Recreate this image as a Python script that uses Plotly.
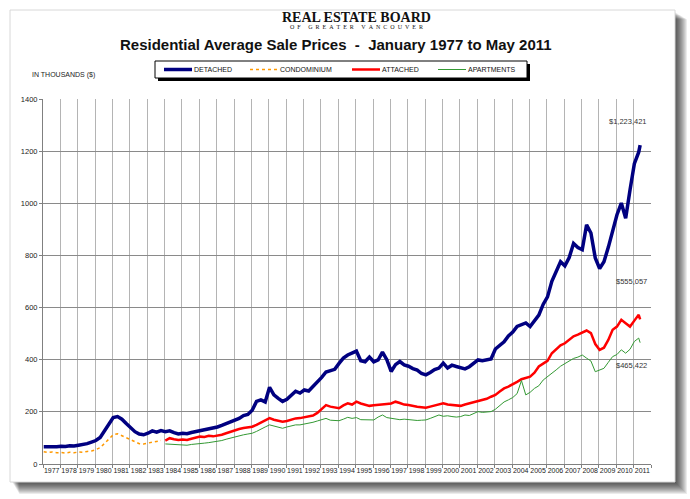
import plotly.graph_objects as go

# ---------------- data (thousands of dollars) ----------------
years = list(range(1977, 2012))
year_labels = [str(y) for y in years]

# quarterly observations (Jan, Apr, Jul, Oct) + final May 2011 value
detached = [
    66, 65, 67, 66,      # 1977
    68, 67, 70, 69,      # 1978
    72, 74, 78, 84,      # 1979
    90, 102, 128, 152,   # 1980
    178, 182, 172, 155,  # 1981
    138, 124, 115, 112,  # 1982
    118, 127, 122, 128,  # 1983
    124, 127, 120, 115,  # 1984
    118, 116, 121, 124,  # 1985
    128, 131, 135, 137,  # 1986
    142, 148, 155, 160,  # 1987
    166, 175, 186, 190,  # 1988
    206, 240, 246, 238,  # 1989
    294, 265, 252, 240,  # 1990
    248, 262, 279, 272,  # 1991
    284, 280, 296, 312,  # 1992
    332, 353, 358, 363,  # 1993
    386, 406, 418, 426,  # 1994
    433, 396, 392, 410,  # 1995
    392, 399, 429, 400,  # 1996
    355, 381, 393, 380,  # 1997
    375, 366, 360, 347,  # 1998
    342, 351, 362, 368,  # 1999
    387, 368, 379, 374,  # 2000
    370, 365, 373, 386,  # 2001
    399, 396, 401, 403,  # 2002
    441, 456, 469, 491,  # 2003
    506, 528, 536, 541,  # 2004
    527, 551, 571, 612,  # 2005
    641, 701, 741, 776,  # 2006
    760, 792, 846, 830,  # 2007
    822, 917, 886, 790,  # 2008
    750, 776, 831, 898,  # 2009
    956, 1001, 943, 1051,  # 2010
    1152, 1196, 1223.421,  # 2011 (Jan, Apr, May)
]

condominium = [
    47, 44, 46, 43,      # 1977
    44, 42, 45, 43,      # 1978
    46, 45, 48, 50,      # 1979
    55, 63, 79, 96,      # 1980
    112, 116, 108, 99,   # 1981
    92, 84, 78, 77,      # 1982
    80, 85, 86, 90,      # 1983
]

attached = [
    90, 99, 95, 92,      # 1984
    94, 92, 97, 100,     # 1985
    105, 104, 108, 106,  # 1986
    108, 112, 118, 124,  # 1987
    130, 134, 138, 140,  # 1988
    143, 150, 158, 165,  # 1989
    176, 170, 165, 162,  # 1990
    165, 170, 175, 176,  # 1991
    180, 182, 186, 196,  # 1992
    210, 226, 220, 216,  # 1993
    214, 225, 233, 228,  # 1994
    239, 232, 226, 223,  # 1995
    225, 226, 229, 230,  # 1996
    232, 239, 234, 228,  # 1997
    226, 222, 220, 218,  # 1998
    216, 220, 225, 230,  # 1999
    233, 228, 226, 224,  # 2000
    223, 228, 232, 236,  # 2001
    239, 245, 250, 258,  # 2002
    265, 278, 290, 297,  # 2003
    305, 315, 325, 329,  # 2004
    335, 350, 374, 385,  # 2005
    396, 425, 440, 455,  # 2006
    463, 476, 490, 496,  # 2007
    505, 512, 502, 460,  # 2008
    438, 446, 476, 515,  # 2009
    527, 553, 540, 527,  # 2010
    550, 572, 555.057,   # 2011 (Jan, Apr, May)
]

apartments = [
    77, 76, 74, 73,      # 1984
    74, 72, 75, 76,      # 1985
    79, 80, 82, 84,      # 1986
    86, 90, 95, 100,     # 1987
    105, 108, 112, 115,  # 1988
    118, 125, 135, 142,  # 1989
    150, 145, 140, 137,  # 1990
    142, 146, 150, 150,  # 1991
    153, 156, 160, 165,  # 1992
    169, 175, 168, 166,  # 1993
    166, 172, 179, 175,  # 1994
    178, 170, 169, 168,  # 1995
    169, 180, 188, 178,  # 1996
    175, 172, 170, 172,  # 1997
    170, 169, 167, 168,  # 1998
    169, 175, 180, 188,  # 1999
    183, 185, 182, 180,  # 2000
    182, 188, 186, 193,  # 2001
    201, 198, 200, 201,  # 2002
    210, 225, 238, 246,  # 2003
    255, 270, 320, 265,  # 2004
    275, 290, 300, 322,  # 2005
    335, 345, 361, 375,  # 2006
    385, 393, 405, 410,  # 2007
    418, 406, 395, 354,  # 2008
    360, 367, 390, 412,  # 2009
    420, 438, 425, 440,  # 2010
    470, 483, 465.422,   # 2011 (Jan, Apr, May)
]

series_names = ["DETACHED", "CONDOMINIUM", "ATTACHED", "APARTMENTS"]
series_colors = ["#000080", "#FF9900", "#FF0000", "#339933"]
series_widths = [3.5, 1.5, 2.5, 1]
series_dash = ["solid", "dot", "solid", "solid"]
end_labels = ["$1,223,421", "$555,057", "$465,422"]


def period_axis(first_year, n):
    """Decimal-year positions (month centres) for quarterly observations,
    with the last entry being May 2011."""
    out = []
    for i in range(n - 1):
        y = first_year + i // 4
        m = 1 + 3 * (i % 4)
        out.append(y + (m - 1) / 12 + 1 / 24)
    out.append(2011 + 4 / 12 + 1 / 24)
    return out


def quarter_axis(first_year, n):
    return [first_year + i // 4 + (3 * (i % 4)) / 12 + 1 / 24 for i in range(n)]


xs = [period_axis(1977, len(detached)), quarter_axis(1977, len(condominium)),
      period_axis(1984, len(attached)), period_axis(1984, len(apartments))]
ys = [detached, condominium, attached, apartments]

# ---------------- layout geometry ----------------
W, H = 690, 499
ML, MR, MT, MB = 43, 39, 99, 35
PW = W - ML - MR
PH = H - MT - MB


def px(xp):
    return (xp - ML) / PW


def py(yp):
    return (H - MB - yp) / PH


fig = go.Figure()
for name, xv, yv, c, w, d in zip(series_names, xs, ys, series_colors,
                                 series_widths, series_dash):
    fig.add_trace(go.Scatter(x=xv, y=yv, name=name, mode="lines",
                             line=dict(color=c, width=w, dash=d),
                             showlegend=False))

shapes = []
# page drop shadow
for k in range(1, 13):
    shapes.append(dict(type="rect", xref="paper", yref="paper", layer="below",
                       x0=px(12 + k * 0.6), x1=px(675 + k),
                       y0=py(482 + k), y1=py(12 + k * 0.6),
                       fillcolor="rgba(0,0,0,0.08)", line=dict(width=0)))
# page
shapes.append(dict(type="rect", xref="paper", yref="paper", layer="below",
                   x0=px(10), x1=px(675), y0=py(482), y1=py(10),
                   fillcolor="white", line=dict(color="#d8d8d8", width=1)))

# legend box (with shadow) and keys
LEG_X0, LEG_X1, LEG_Y0, LEG_Y1 = 155, 527, 61, 78
shapes.append(dict(type="rect", xref="paper", yref="paper", layer="above",
                   x0=px(LEG_X0 + 3), x1=px(LEG_X1 + 3), y0=py(LEG_Y1 + 3), y1=py(LEG_Y0 + 3),
                   fillcolor="black", line=dict(width=0)))
shapes.append(dict(type="rect", xref="paper", yref="paper", layer="above",
                   x0=px(LEG_X0), x1=px(LEG_X1), y0=py(LEG_Y1), y1=py(LEG_Y0),
                   fillcolor="white", line=dict(color="black", width=1)))
key_starts = [164, 250, 352, 438]
key_len = 28
key_y = (LEG_Y0 + LEG_Y1) / 2
annotations = []
for x0, name, c, w, d in zip(key_starts, series_names, series_colors,
                             series_widths, series_dash):
    shapes.append(dict(type="line", xref="paper", yref="paper", layer="above",
                       x0=px(x0), x1=px(x0 + key_len), y0=py(key_y), y1=py(key_y),
                       line=dict(color=c, width=w, dash=d)))
    annotations.append(dict(text=name, xref="paper", yref="paper",
                            x=px(x0 + key_len), y=py(key_y), xanchor="left",
                            yanchor="middle", showarrow=False,
                            font=dict(family="Liberation Sans", size=7, color="#111")))

NB = "\u00a0"
sub = (NB * 2).join("OF GREATER VANCOUVER").replace(NB * 2 + " " + NB * 2, NB * 5)
annotations += [
    dict(text="<b>REAL ESTATE BOARD</b>", xref="paper", yref="paper",
         x=px(356), y=py(17), xanchor="center", yanchor="middle", showarrow=False,
         font=dict(family="Liberation Serif", size=14, color="#111")),
    dict(text=sub, xref="paper", yref="paper",
         x=px(356), y=py(27.5), xanchor="center", yanchor="middle", showarrow=False,
         font=dict(family="Liberation Serif", size=6, color="#111")),
    dict(text="<b>Residential Average Sale Prices" + NB + " - " + NB
         + "January 1977 to May 2011</b>",
         xref="paper", yref="paper", x=px(336), y=py(45), xanchor="center",
         yanchor="middle", showarrow=False,
         font=dict(family="Liberation Sans", size=15, color="#111")),
    dict(text="IN THOUSANDS ($)", xref="paper", yref="paper", x=px(30), y=py(75),
         xanchor="left", yanchor="middle", showarrow=False,
         font=dict(family="Liberation Sans", size=7, color="#222")),
]
for lab, yv in zip(end_labels, [1313, 699, 376]):
    annotations.append(dict(text=lab, x=2011.9, y=yv, xref="x", yref="y",
                            xanchor="right", yanchor="middle", showarrow=False,
                            font=dict(family="Liberation Sans", size=7.5, color="#333")))

fig.update_layout(
    width=W, height=H,
    margin=dict(l=ML, r=MR, t=MT, b=MB),
    paper_bgcolor="white", plot_bgcolor="white",
    font=dict(family="Liberation Sans", color="#222"),
    showlegend=False,
    shapes=shapes,
    annotations=annotations,
    xaxis=dict(range=[1977, 2012], tickmode="array",
               tickvals=[y + 0.5 for y in years], ticktext=year_labels,
               tickangle=0, showgrid=False, ticks="", zeroline=False,
               tickfont=dict(size=7, color="#222"),
               showline=True, linecolor="#808080", linewidth=1,
               minor=dict(tickmode="linear", tick0=1977, dtick=1, showgrid=True,
                          gridcolor="#b4b4b4", gridwidth=1, ticks="outside",
                          ticklen=3, tickcolor="#808080")),
    yaxis=dict(range=[0, 1400], dtick=200, tick0=0, showgrid=True,
               gridcolor="#8a8a8a", gridwidth=1, zeroline=False,
               showline=True, linecolor="#808080", linewidth=1,
               ticks="outside", ticklen=3, tickcolor="#808080",
               tickfont=dict(size=7.5, color="#222")),
)

fig.write_html("out.html")
